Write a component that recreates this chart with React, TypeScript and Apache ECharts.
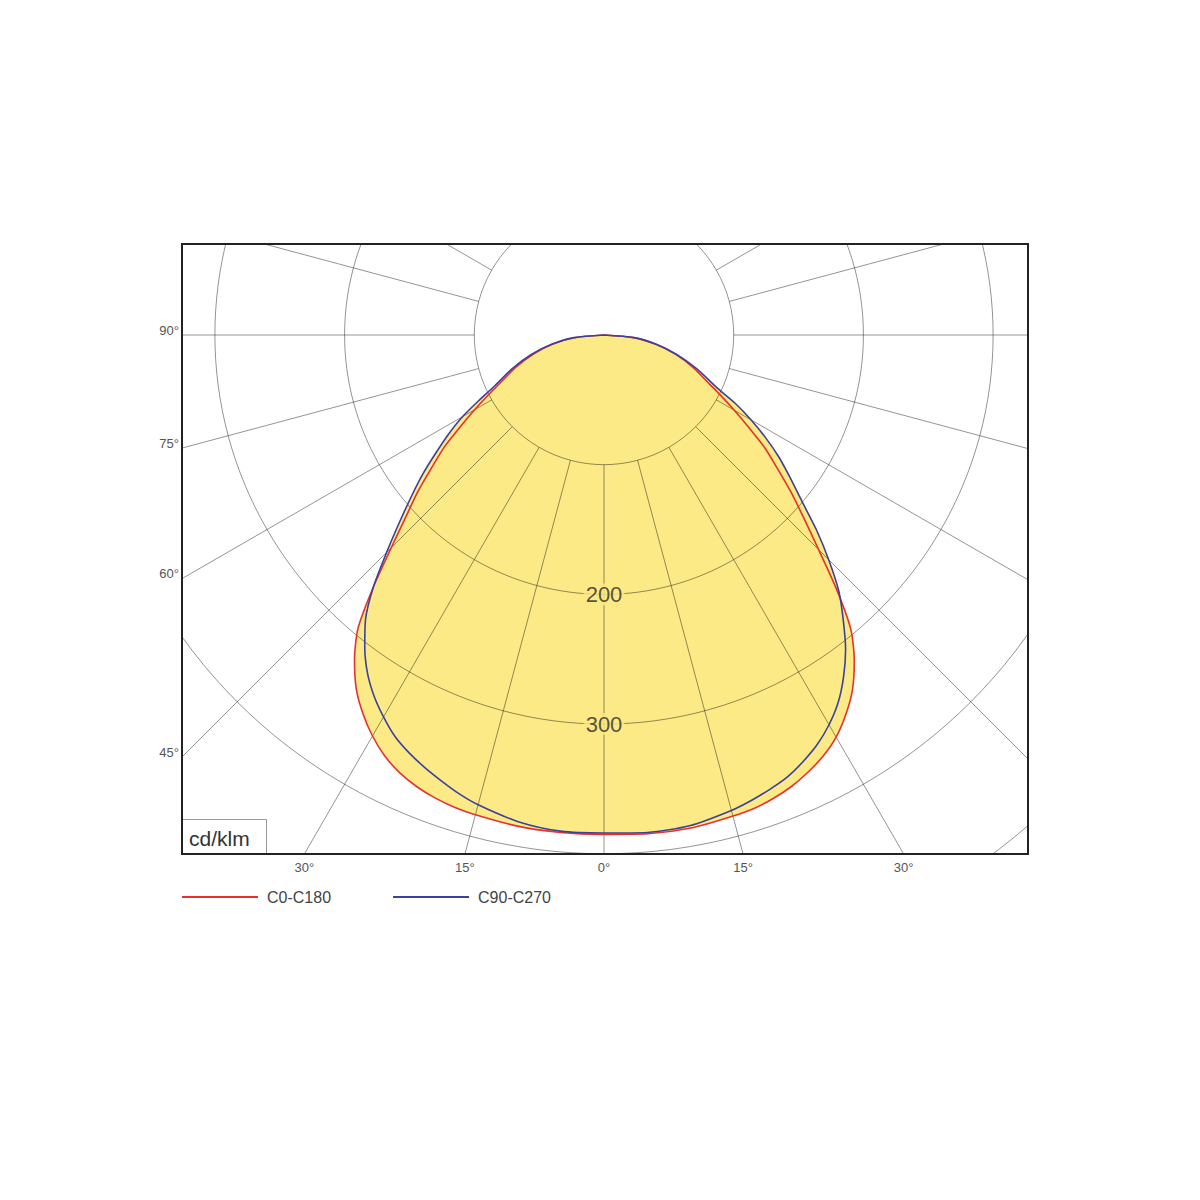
import React, { useEffect, useRef } from "react";
import * as echarts from "echarts";

// Gamma angles (degrees from nadir) at which intensities were read
const GAMMA = [0, 5, 10, 15, 17.5, 20, 22.5, 25, 27.5, 30, 32.5, 35, 37.5, 40, 42.5, 45, 47.5, 50, 52.5, 55, 57.5, 60, 62.5, 65, 70, 75, 80, 85, 90];
// cd/klm values, C0-C180 plane (right half C0, left half C180)
const C0 = [385, 386, 386, 384, 383, 380.5, 377, 372, 366, 358, 347, 334, 317, 296, 265, 234, 209, 188, 168, 151, 132, 116, 102, 90, 73, 57, 40, 23, 0];
const C180 = [385, 385, 384.5, 383, 382, 380, 377, 372.5, 366, 357, 346, 333, 316, 295, 263, 232, 207, 187, 167, 150, 131, 115, 101, 89, 72, 56, 40, 22, 0];
// C90-C270 plane (right half C90, left half C270)
const C90 = [384, 385, 384, 379.5, 376.5, 373, 369, 363, 356, 347, 336, 322, 306, 287, 268, 245, 222, 199, 181, 165, 148, 131, 114, 96, 76, 58, 41, 23, 0];
const C270 = [384, 384, 381, 375, 371, 366, 361, 355.5, 349, 340, 330, 318, 303, 286, 263, 237, 214, 194, 176, 158, 142, 126, 108, 93, 75, 58, 41, 23, 0];

const SERIES_NAMES = ["C0-C180", "C90-C270"];
const RING_LABELS = [200, 300];
const LEFT_ANGLE_LABELS = [90, 75, 60, 45];
const BOTTOM_ANGLE_LABELS = [-30, -15, 0, 15, 30];
const UNIT = "cd/klm";

const FONT = "'Liberation Sans', Arial, sans-serif";
const YELLOW = "#FBEA86";
const RED = "#E8302E";
const BLUE = "#3C409E";
const GRID = "rgba(0,0,0,0.42)";

function planeData(left: number[], right: number[]) {
  const out: number[][] = [];
  for (let i = GAMMA.length - 1; i >= 0; i--) out.push([left[i], -GAMMA[i]]);
  for (let i = 1; i < GAMMA.length; i++) out.push([right[i], GAMMA[i]]);
  return out;
}

export default function App() {
  const ref = useRef<HTMLDivElement>(null);

  useEffect(() => {
    const chart = echarts.init(ref.current!, null, { renderer: "svg" });
    const CX = 604;
    const CY = 335;
    const PX = 1.297; // pixels per cd/klm
    const RMAX = 600;
    const F = { l: 182, t: 244, r: 1028, b: 854 };

    const red = planeData(C180, C0);
    const blue = planeData(C270, C90);

    const graphics: any[] = [
      { type: "rect", z: 10, silent: true, shape: { x: 0, y: 0, width: 1200, height: F.t }, style: { fill: "#fff" } },
      { type: "rect", z: 10, silent: true, shape: { x: 0, y: F.b, width: 1200, height: 1200 - F.b }, style: { fill: "#fff" } },
      { type: "rect", z: 10, silent: true, shape: { x: 0, y: 0, width: F.l, height: 1200 }, style: { fill: "#fff" } },
      { type: "rect", z: 10, silent: true, shape: { x: F.r, y: 0, width: 1200 - F.r, height: 1200 }, style: { fill: "#fff" } },
      {
        type: "rect", z: 11, silent: true,
        shape: { x: F.l + 0.5, y: 819.5, width: 84, height: F.b - 819.5 },
        style: { fill: "#fff", stroke: "#999", lineWidth: 1 },
      },
      {
        type: "text", z: 12, silent: true, x: F.l + 7, y: 838,
        style: { text: UNIT, fontSize: 21, fontFamily: FONT, fill: "#333", verticalAlign: "middle", align: "left" },
      },
      {
        type: "rect", z: 12, silent: true,
        shape: { x: F.l, y: F.t, width: F.r - F.l, height: F.b - F.t },
        style: { fill: "none", stroke: "#222", lineWidth: 2 },
      },
    ];

    LEFT_ANGLE_LABELS.forEach((g) => {
      const rad = (g * Math.PI) / 180;
      const yLine = g === 90 ? CY : CY + (CX - F.l) / Math.tan(rad);
      graphics.push({
        type: "text", z: 12, silent: true, x: F.l - 3, y: yLine - 5,
        style: { text: g + "°", fontSize: 13, fontFamily: FONT, fill: "#555", align: "right", verticalAlign: "middle" },
      });
    });
    BOTTOM_ANGLE_LABELS.forEach((g) => {
      const rad = (g * Math.PI) / 180;
      const x = CX + (F.b - CY) * Math.tan(rad);
      graphics.push({
        type: "text", z: 12, silent: true, x: x, y: 867,
        style: { text: Math.abs(g) + "°", fontSize: 13, fontFamily: FONT, fill: "#555", align: "center", verticalAlign: "middle" },
      });
    });

    const option: any = {
      animation: false,
      backgroundColor: "#fff",
      polar: [
        { center: [CX, CY], radius: [0, RMAX * PX] },
        { center: [CX, CY], radius: [100 * PX, RMAX * PX] },
      ],
      angleAxis: [
        { polarIndex: 0, type: "value", min: -180, max: 180, startAngle: 90, clockwise: false, show: false },
        {
          polarIndex: 1, type: "value", min: 0, max: 360, interval: 15, startAngle: 90, z: 3,
          axisLine: { show: false }, axisTick: { show: false }, axisLabel: { show: false },
          splitLine: { show: true, lineStyle: { color: GRID, width: 1 } },
        },
      ],
      radiusAxis: [
        { polarIndex: 0, type: "value", min: 0, max: RMAX, show: false },
        {
          polarIndex: 1, type: "value", min: 100, max: RMAX, interval: 100, z: 3,
          axisLine: { show: false }, axisTick: { show: false }, axisLabel: { show: false },
          splitLine: { show: true, lineStyle: { color: GRID, width: 1 } },
        },
      ],
      legend: {
        data: SERIES_NAMES, left: F.l, top: 889, padding: 0, icon: "rect",
        itemWidth: 76, itemHeight: 2, itemGap: 62,
        selectedMode: false, z: 20,
        textStyle: { fontSize: 16, color: "#444", fontFamily: FONT, padding: [0, 0, 0, 4] },
      },
      series: [
        {
          type: "line", name: "fillA", coordinateSystem: "polar", polarIndex: 0, data: red,
          symbol: "none", smooth: 0.25, lineStyle: { width: 0, opacity: 0 },
          areaStyle: { color: YELLOW, opacity: 1 }, z: 1, silent: true,
        },
        {
          type: "line", name: "fillB", coordinateSystem: "polar", polarIndex: 0, data: blue,
          symbol: "none", smooth: 0.25, lineStyle: { width: 0, opacity: 0 },
          areaStyle: { color: YELLOW, opacity: 1 }, z: 1, silent: true,
        },
        {
          type: "line", name: SERIES_NAMES[0], coordinateSystem: "polar", polarIndex: 0, data: red,
          symbol: "none", smooth: 0.25, lineStyle: { color: RED, width: 1.6 }, itemStyle: { color: RED }, z: 5,
        },
        {
          type: "line", name: SERIES_NAMES[1], coordinateSystem: "polar", polarIndex: 0, data: blue,
          symbol: "none", smooth: 0.25, lineStyle: { color: BLUE, width: 1.6 }, itemStyle: { color: BLUE }, z: 5,
        },
        {
          type: "scatter", name: "rings", coordinateSystem: "polar", polarIndex: 0,
          data: RING_LABELS.map((v) => [v, 0]), symbolSize: 1, itemStyle: { color: "rgba(0,0,0,0)" },
          label: {
            show: true, position: "inside", formatter: (p: any) => String(p.value[0]),
            fontSize: 22, color: "#2a2a2a", fontFamily: FONT, backgroundColor: YELLOW, padding: [0, 2],
          },
          z: 6, silent: true,
        },
      ],
      graphic: graphics,
    };

    chart.setOption(option);
    return () => chart.dispose();
  }, []);

  return <div ref={ref} style={{ position: "absolute", left: 0, top: 0, width: 1200, height: 1200 }} />;
}
